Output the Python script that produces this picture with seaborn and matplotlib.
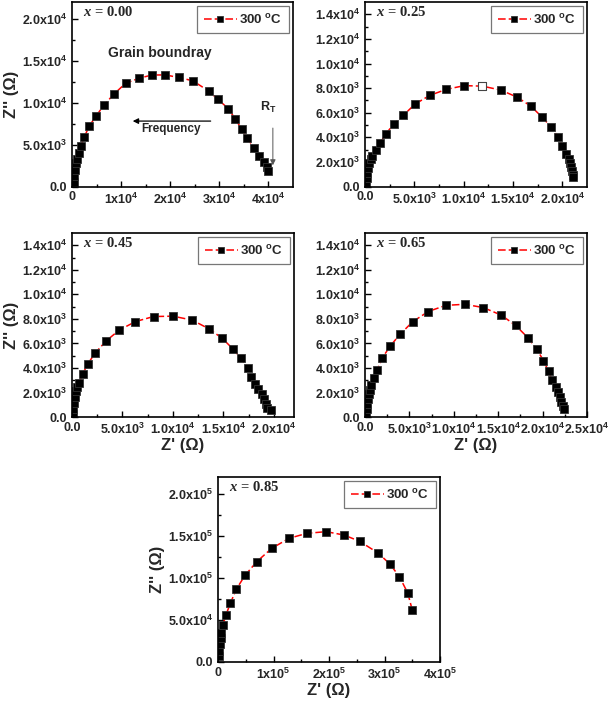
import matplotlib
matplotlib.use('Agg')
import matplotlib.pyplot as plt
import seaborn as sns

# ---------------- data (Ohm) ----------------
p1_re = [100, 200, 400, 500, 700, 900, 1100, 1400, 1800, 2500, 3500, 4900, 6500, 8500, 10900,
         13600, 16300, 19000, 21800, 24600, 27800, 29700, 31800, 33200, 34600, 35700, 37000,
         38100, 39000, 39700, 40000]
p1_im = [50, 300, 500, 1200, 2000, 2800, 3300, 4000, 4840, 5900, 7200, 8400, 9700, 11000, 12300,
         12900, 13300, 13300, 13000, 12600, 11400, 10400, 9300, 8100, 6800, 5800, 4600,
         3600, 2900, 2300, 1800]

p2_re = [100, 170, 240, 340, 450, 580, 700, 1100, 1550, 2140, 2930, 3900, 5070, 6550, 8240,
         10070, 11900, 13760, 15400, 16800, 17900, 18860, 19550, 20000, 20400, 20660, 20800,
         20900, 20970, 21070, 21100]
p2_im = [270, 680, 1080, 1490, 1890, 2200, 2500, 3000, 3570, 4300, 5100, 5800, 6700, 7400, 7900,
         8200, 8160, 7840, 7270, 6540, 5680, 4840, 4030, 3320, 2680, 2200, 1900,
         1570, 1240, 950, 760]
p2_open_index = 16

p3_re = [70, 130, 200, 300, 400, 530, 700, 1060, 1560, 2280, 3380, 4670, 6290, 8080, 10000,
         11920, 13540, 14870, 15960, 16750, 17400, 17700, 18100, 18400, 18800, 19000, 19200,
         19300, 19700]
p3_im = [270, 680, 1140, 1620, 2080, 2430, 2760, 3500, 4320, 5200, 6200, 7080, 7780, 8190, 8220,
         7900, 7200, 6430, 5540, 4780, 4000, 3300, 2700, 2300, 1900, 1500, 1080,
         760, 600]

p4_re = [110, 190, 260, 340, 450, 560, 710, 1000, 1390, 1950, 2810, 3930, 5360, 7120, 9100,
         11240, 13330, 15360, 16970, 18350, 19360, 20100, 20670, 21050, 21500, 21750, 21950,
         22100, 22250, 22400]
p4_im = [220, 620, 1030, 1430, 1840, 2220, 2570, 3190, 3860, 4810, 5760, 6730, 7760, 8600, 9100,
         9190, 8920, 8300, 7460, 6460, 5510, 4600, 3730, 3030, 2430, 2030, 1620,
         1220, 860, 620]

p5_re = [2000, 2500, 3500, 5000, 6000, 9000, 14400, 22200, 33000, 48600, 70000, 96500, 127700,
         160000, 195000, 227000, 255000, 289000, 310000, 327000, 342000, 350000]
p5_im = [7000, 13000, 21000, 29000, 35000, 44400, 56000, 69800, 86500, 103000, 119400, 135000,
         147000, 153000, 155000, 151000, 143600, 129400, 116300, 101300, 81900, 61800]

compositions = ['0.00', '0.25', '0.45', '0.65', '0.85']
legend_label = '300 $^{o}$C'

p1_xticks = [0, 1e4, 2e4, 3e4, 4e4]
p1_xticklabels = ['0', '1x10$^{4}$', '2x10$^{4}$', '3x10$^{4}$', '4x10$^{4}$']
p1_yticks = [0, 5e3, 1e4, 1.5e4, 2e4]
p1_yticklabels = ['0.0', '5.0x10$^{3}$', '1.0x10$^{4}$', '1.5x10$^{4}$', '2.0x10$^{4}$']

mid_yticks = [0, 2e3, 4e3, 6e3, 8e3, 1e4, 1.2e4, 1.4e4]
mid_yticklabels = ['0.0', '2.0x10$^{3}$', '4.0x10$^{3}$', '6.0x10$^{3}$', '8.0x10$^{3}$',
                   '1.0x10$^{4}$', '1.2x10$^{4}$', '1.4x10$^{4}$']
mid_xticks = [0, 5e3, 1e4, 1.5e4, 2e4]
mid_xticklabels = ['0.0', '5.0x10$^{3}$', '1.0x10$^{4}$', '1.5x10$^{4}$', '2.0x10$^{4}$']
p4_xticks = [0, 5e3, 1e4, 1.5e4, 2e4, 2.5e4]
p4_xticklabels = ['0.0', '5.0x10$^{3}$', '1.0x10$^{4}$', '1.5x10$^{4}$', '2.0x10$^{4}$',
                  '2.5x10$^{4}$']

p5_xticks = [0, 1e5, 2e5, 3e5, 4e5]
p5_xticklabels = ['0', '1x10$^{5}$', '2x10$^{5}$', '3x10$^{5}$', '4x10$^{5}$']
p5_yticks = [0, 5e4, 1e5, 1.5e5, 2e5]
p5_yticklabels = ['0.0', '5.0x10$^{4}$', '1.0x10$^{5}$', '1.5x10$^{5}$', '2.0x10$^{5}$']

# ---------------- style ----------------
sns.set_style('ticks')
plt.rcParams['font.family'] = ['Liberation Sans', 'DejaVu Sans']
plt.rcParams['font.weight'] = 'bold'
plt.rcParams['axes.labelweight'] = 'bold'
plt.rcParams['mathtext.fontset'] = 'custom'
plt.rcParams['mathtext.rm'] = 'Liberation Sans:bold'
plt.rcParams['mathtext.bf'] = 'Liberation Sans:bold'
plt.rcParams['mathtext.it'] = 'Liberation Serif:italic:bold'
plt.rcParams['mathtext.default'] = 'rm'

W, H = 609, 705
fig = plt.figure(figsize=(W / 100, H / 100), dpi=100)


def box(l, t, r, b):
    return [l / W, (H - b) / H, (r - l) / W, (b - t) / H]


def make_panel(rect, re, im, comp, xlim, ylim, xt, xtl, xminor, yt, ytl, yminor,
               xlabel=True, ylabel=True, open_idx=None):
    ax = fig.add_axes(rect)
    sns.lineplot(x=re, y=im, sort=False, estimator=None, ax=ax, color='red',
                 linewidth=1.1, linestyle=(0, (5, 2)), marker='s', markersize=6.3,
                 markerfacecolor='black', markeredgecolor='#333333', markeredgewidth=0.6,
                 label=legend_label)
    if open_idx is not None:
        sns.scatterplot(x=[re[open_idx]], y=[im[open_idx]], ax=ax, marker='s', s=38,
                        color='white', edgecolor='#444444', linewidth=0.8, zorder=5,
                        legend=False)
    ax.set_xlim(*xlim)
    ax.set_ylim(*ylim)
    ax.set_xticks(xt)
    ax.set_xticklabels(xtl)
    ax.set_yticks(yt)
    ax.set_yticklabels(ytl)
    ax.set_xticks(xminor, minor=True)
    ax.set_yticks(yminor, minor=True)
    ax.tick_params(which='both', direction='in', top=False, right=False,
                   labelsize=9, pad=3.5, width=1.0, color='black')
    ax.tick_params(which='major', length=4.5)
    ax.tick_params(which='minor', length=2.5)
    for s in ax.spines.values():
        s.set_visible(True)
        s.set_linewidth(1.2)
        s.set_color('black')
    if xlabel:
        ax.set_xlabel("Z' (Ω)", fontsize=12, labelpad=1)
    else:
        ax.set_xlabel('')
    if ylabel:
        ax.set_ylabel("Z'' (Ω)", fontsize=12, labelpad=2)
    else:
        ax.set_ylabel('')
    ax.text(0.05, 0.985, r'$\mathit{x}$ = ' + comp, transform=ax.transAxes,
            ha='left', va='top', fontsize=10.5, family='Liberation Serif', weight='bold')
    leg = ax.legend(loc='upper right', frameon=True, fancybox=False, fontsize=9.5,
                    handlelength=2.5, handletextpad=0.2, borderaxespad=0.3, borderpad=0.5,
                    markerscale=0.7)
    leg.get_frame().set_edgecolor('#777777')
    leg.get_frame().set_linewidth(0.9)
    leg.get_frame().set_alpha(1)
    return ax


def minors(step, stop):
    out = []
    v = step
    while v < stop:
        out.append(v)
        v += 2 * step
    return out


ax1 = make_panel(box(72, 2, 293, 186.5), p1_re, p1_im, compositions[0], (0, 4.5e4), (0, 2.2e4),
                 p1_xticks, p1_xticklabels, minors(5e3, 4.5e4),
                 p1_yticks, p1_yticklabels, minors(2.5e3, 2.2e4), xlabel=False, ylabel=True)
ax2 = make_panel(box(365, 2, 587, 186.5), p2_re, p2_im, compositions[1], (0, 2.25e4), (0, 1.5e4),
                 mid_xticks, mid_xticklabels, minors(2.5e3, 2.25e4),
                 mid_yticks, mid_yticklabels, minors(1e3, 1.5e4), xlabel=False, ylabel=False,
                 open_idx=p2_open_index)
ax3 = make_panel(box(72, 233, 294, 417), p3_re, p3_im, compositions[2], (0, 2.2e4), (0, 1.5e4),
                 mid_xticks, mid_xticklabels, minors(2.5e3, 2.2e4),
                 mid_yticks, mid_yticklabels, minors(1e3, 1.5e4), xlabel=True, ylabel=True)
ax4 = make_panel(box(365, 233, 587, 417), p4_re, p4_im, compositions[3], (0, 2.5e4), (0, 1.5e4),
                 p4_xticks, p4_xticklabels, minors(2.5e3, 2.5e4),
                 mid_yticks, mid_yticklabels, minors(1e3, 1.5e4), xlabel=True, ylabel=False)
ax5 = make_panel(box(218, 477, 440, 662), p5_re, p5_im, compositions[4], (0, 4e5), (0, 2.2e5),
                 p5_xticks, p5_xticklabels, minors(5e4, 4e5),
                 p5_yticks, p5_yticklabels, minors(2.5e4, 2.2e5), xlabel=True, ylabel=True)

# annotations in first panel
ax1.text(1.78e4, 1.59e4, 'Grain boundray', ha='center', va='center', fontsize=10)
ax1.annotate('', xy=(1.18e4, 7.8e3), xytext=(2.88e4, 7.8e3),
             arrowprops=dict(arrowstyle='-|>', color='black', lw=0.9, mutation_scale=8))
ax1.text(2.02e4, 6.8e3, 'Frequency', ha='center', va='center', fontsize=8.5)
ax1.text(4.0e4, 9.4e3, 'R$_{T}$', ha='center', va='center', fontsize=9)
ax1.annotate('', xy=(4.09e4, 2.2e3), xytext=(4.09e4, 7.3e3),
             arrowprops=dict(arrowstyle='-|>', color='#555555', lw=0.7, mutation_scale=8))

fig.savefig('out.png', dpi=100)
